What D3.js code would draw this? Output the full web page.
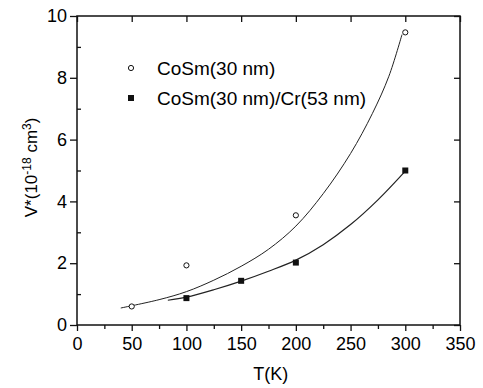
<!DOCTYPE html>
<html>
<head>
<meta charset="utf-8">
<script src="https://cdn.jsdelivr.net/npm/d3@7"></script>
<style>
  body { margin: 0; background: #fff; }
  text { font-family: "Liberation Sans", Arial, sans-serif; fill: #000; }
</style>
</head>
<body>
<svg id="chart" width="483" height="388"></svg>
<script>
// measured points
const temps = [50, 100, 200, 300];
const cosm = [0.6, 1.93, 3.55, 9.47];
const tempsCr = [100, 150, 200, 300];
const cosmCr = [0.87, 1.43, 2.02, 5.0];

// fitted curves
const fitT1 = [40, 75, 100, 125, 150, 175, 200, 225, 250, 270, 285, 297];
const fitV1 = [0.55, 0.82, 1.08, 1.45, 1.9, 2.45, 3.2, 4.25, 5.55, 6.85, 8.05, 9.4];
const fitT2 = [83, 100, 125, 150, 175, 200, 225, 250, 275, 300];
const fitV2 = [0.8, 0.9, 1.14, 1.42, 1.74, 2.1, 2.6, 3.25, 4.05, 4.98];

const xTicks = [0, 50, 100, 150, 200, 250, 300, 350];
const yTicks = [0, 2, 4, 6, 8, 10];
const legendNames = ['CoSm(30 nm)', 'CoSm(30 nm)/Cr(53 nm)'];

const margin = { top: 16, right: 23, bottom: 63, left: 77 };
const width = 483 - margin.left - margin.right;
const height = 388 - margin.top - margin.bottom;

const svg = d3.select('#chart')
  .append('g')
  .attr('transform', `translate(${margin.left},${margin.top})`);

const xScale = d3.scaleLinear().domain([0, 350]).range([0, width]);
const yScale = d3.scaleLinear().domain([0, 10]).range([height, 0]);

// frame
svg.append('rect')
  .attr('width', width).attr('height', height)
  .attr('fill', 'none').attr('stroke', '#111').attr('stroke-width', 1.5);

// bottom axis: major + minor ticks outward
svg.append('g')
  .attr('transform', `translate(0,${height})`)
  .call(d3.axisBottom(xScale).tickValues(xTicks).tickSize(6).tickPadding(6));
svg.append('g')
  .attr('transform', `translate(0,${height})`)
  .call(d3.axisBottom(xScale).tickValues(d3.range(25, 350, 50)).tickSize(4).tickFormat(''));

// left axis: major outward, minor inward
svg.append('g')
  .call(d3.axisLeft(yScale).tickValues(yTicks).tickSize(7).tickPadding(3));
svg.append('g')
  .call(d3.axisRight(yScale).tickValues(d3.range(1, 10, 2)).tickSize(4).tickFormat(''));

// top / right: major inward
svg.append('g')
  .call(d3.axisBottom(xScale).tickValues(xTicks).tickSize(6).tickFormat(''));
svg.append('g')
  .attr('transform', `translate(${width},0)`)
  .call(d3.axisLeft(yScale).tickValues(yTicks).tickSize(6).tickFormat(''));

svg.selectAll('.domain').remove();
svg.selectAll('.tick line').attr('stroke', '#111').attr('stroke-width', 1.3);
svg.selectAll('.tick text').style('font-size', '18px').attr('fill', '#000');

// fitted lines
const line = d3.line()
  .x(d => xScale(d[0]))
  .y(d => yScale(d[1]))
  .curve(d3.curveCatmullRom);

svg.append('path')
  .datum(fitT1.map((t, i) => [t, fitV1[i]]))
  .attr('d', line)
  .attr('fill', 'none').attr('stroke', '#222').attr('stroke-width', 1);
svg.append('path')
  .datum(fitT2.map((t, i) => [t, fitV2[i]]))
  .attr('d', line)
  .attr('fill', 'none').attr('stroke', '#222').attr('stroke-width', 1.2);

// markers
svg.selectAll('.open')
  .data(temps.map((t, i) => [t, cosm[i]]))
  .enter().append('circle')
  .attr('cx', d => xScale(d[0]))
  .attr('cy', d => yScale(d[1]))
  .attr('r', 2.6)
  .attr('fill', '#fff').attr('stroke', '#111').attr('stroke-width', 1);

svg.selectAll('.filled')
  .data(tempsCr.map((t, i) => [t, cosmCr[i]]))
  .enter().append('rect')
  .attr('x', d => xScale(d[0]) - 3)
  .attr('y', d => yScale(d[1]) - 3)
  .attr('width', 6).attr('height', 6)
  .attr('fill', '#111');

// legend
const legend = svg.append('g').attr('transform', 'translate(54,52)');
legend.append('circle').attr('cx', 0).attr('cy', 0).attr('r', 2.6)
  .attr('fill', '#fff').attr('stroke', '#111');
legend.append('rect').attr('x', -3).attr('y', 27).attr('width', 6).attr('height', 6)
  .attr('fill', '#111');
legend.selectAll('.lt')
  .data(legendNames)
  .enter().append('text')
  .attr('x', 26)
  .attr('y', (d, i) => 7 + i * 30)
  .style('font-size', '19px')
  .text(d => d);

// axis titles
svg.append('text')
  .attr('x', xScale(177))
  .attr('y', height + 55)
  .attr('text-anchor', 'middle')
  .style('font-size', '18px')
  .text('T(K)');

const yt = svg.append('text')
  .attr('transform', `translate(-40,${yScale(5.1)}) rotate(-90)`)
  .attr('text-anchor', 'middle')
  .style('font-size', '17px');
yt.append('tspan').text('V*(10');
yt.append('tspan').attr('dy', -6).style('font-size', '12px').text('-18');
yt.append('tspan').attr('dy', 6).text(' cm');
yt.append('tspan').attr('dy', -6).style('font-size', '12px').text('3');
yt.append('tspan').attr('dy', 6).text(')');
</script>
</body>
</html>
